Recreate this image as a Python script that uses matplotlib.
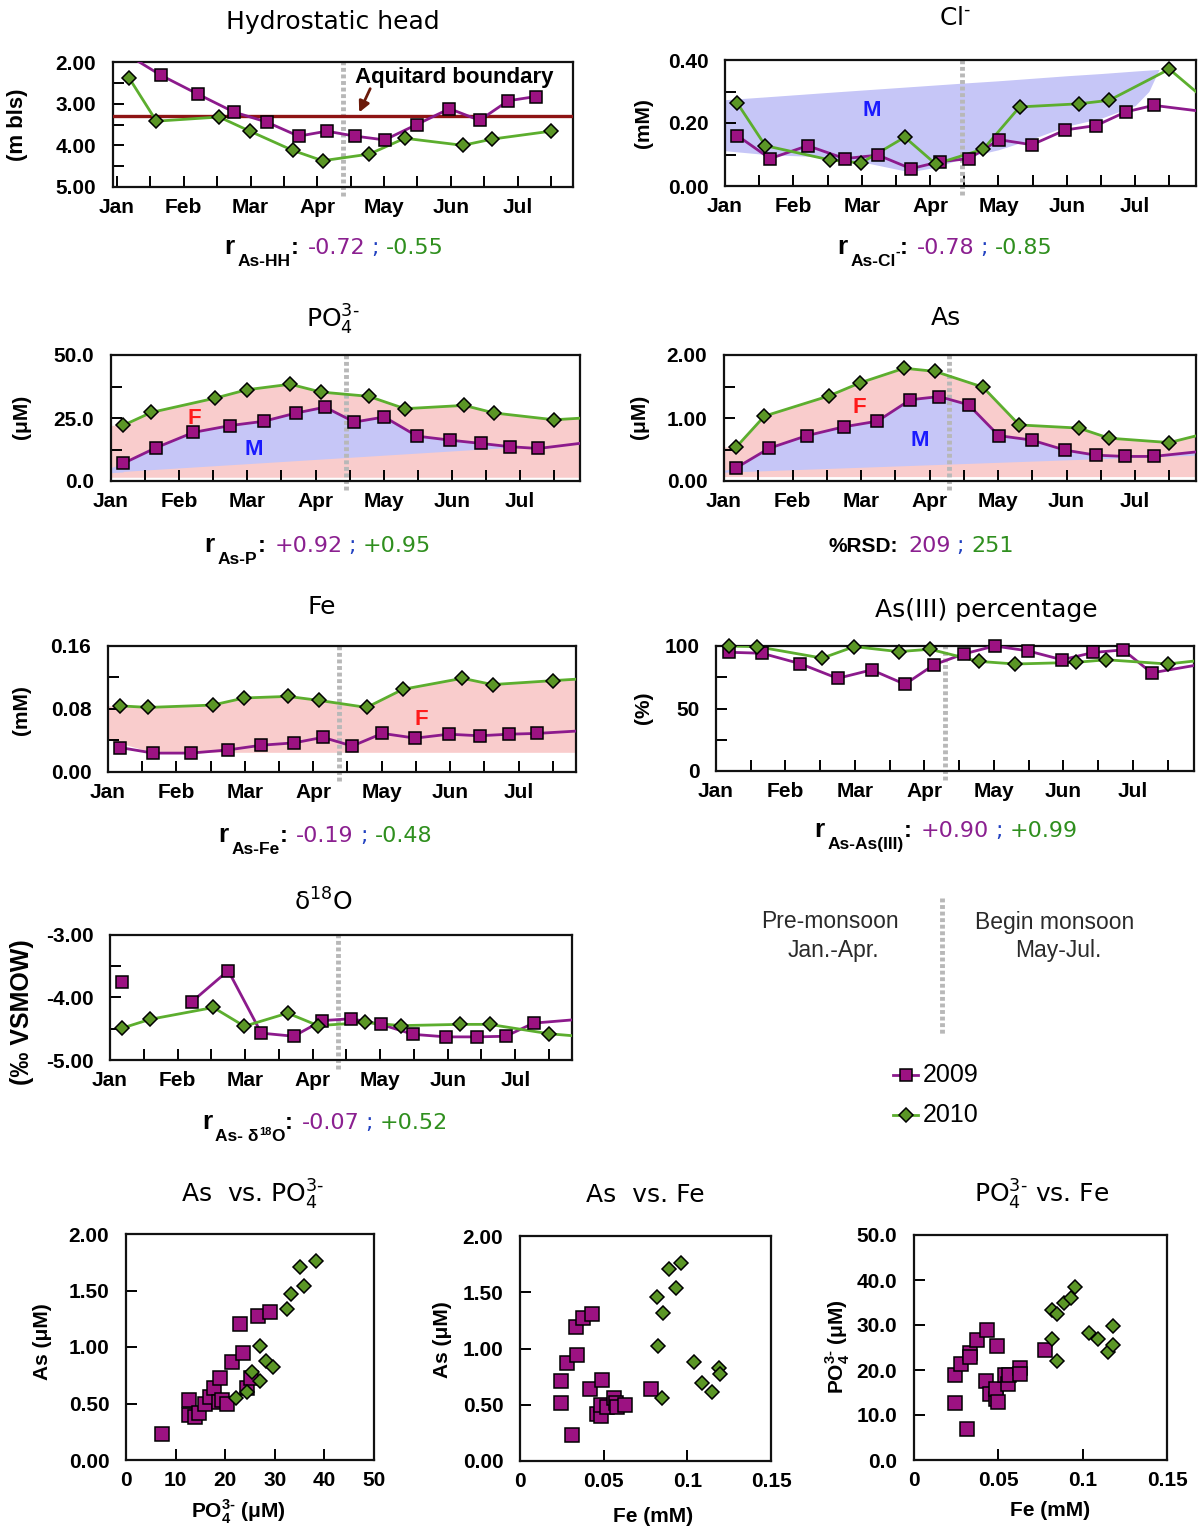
import numpy as np
import matplotlib
matplotlib.use("Agg")
import matplotlib.pyplot as plt
from matplotlib.lines import Line2D
from matplotlib.transforms import IdentityTransform

plt.rcParams['font.family'] = ['Liberation Sans', 'DejaVu Sans']
plt.rcParams['axes.unicode_minus'] = False
plt.rcParams['mathtext.fontset'] = 'custom'
plt.rcParams['mathtext.rm'] = 'DejaVu Sans'
plt.rcParams['mathtext.it'] = 'DejaVu Sans:italic'
plt.rcParams['mathtext.bf'] = 'Liberation Sans:bold'

# ------------------------------------------------------------------ data
MONTHS = ['Jan', 'Feb', 'Mar', 'Apr', 'May', 'Jun', 'Jul']

# sampling dates, in months after 1 January
dates_2009 = np.array([0.18, 0.66, 1.21, 1.75, 2.24, 2.72, 3.14, 3.57, 4.01,
                       4.49, 4.98, 5.43, 5.86, 6.27, 7.05])
dates_2010 = np.array([0.18, 0.59, 1.53, 1.99, 2.63, 3.08, 3.78, 4.31, 5.18,
                       5.62, 6.50, 7.05])

head_2009 = [1.85, 2.32, 2.77, 3.20, 3.44, 3.78, 3.66, 3.78, 3.87, 3.50, 3.12,
             3.40, 2.93, 2.83, np.nan]
head_2010 = [2.38, 3.42, 3.32, 3.66, 4.12, 4.37, 4.21, 3.83, 4.00, 3.85, 3.66,
             np.nan]
aquitard_depth = 3.29

cl_2009 = [0.160, 0.087, 0.128, 0.087, 0.098, 0.055, 0.077, 0.087, 0.147,
           0.131, 0.178, 0.192, 0.235, 0.256, 0.235]
cl_2010 = [0.263, 0.128, 0.083, 0.073, 0.155, 0.070, 0.117, 0.251, 0.261,
           0.272, 0.371, 0.270]

po4_2009 = [7.0, 13.2, 19.3, 22.0, 23.7, 27.0, 29.3, 23.4, 25.4, 17.8, 16.2,
            14.9, 13.6, 12.9, 15.5]
po4_2010 = [22.1, 27.2, 32.9, 36.2, 38.4, 35.3, 33.6, 28.7, 30.0, 27.0, 24.3,
            25.2]

as_2009 = [0.21, 0.52, 0.72, 0.86, 0.95, 1.29, 1.34, 1.21, 0.72, 0.65, 0.49,
           0.41, 0.39, 0.39, 0.48]
as_2010 = [0.54, 1.03, 1.35, 1.56, 1.79, 1.74, 1.49, 0.89, 0.84, 0.68, 0.61,
           0.76]

fe_2009 = [0.031, 0.024, 0.024, 0.028, 0.034, 0.037, 0.044, 0.033, 0.049,
           0.043, 0.048, 0.046, 0.048, 0.049, 0.053]
fe_2010 = [0.084, 0.082, 0.085, 0.094, 0.096, 0.091, 0.082, 0.105, 0.119,
           0.111, 0.116, 0.119]

as3_2009 = [95.0, 94.2, 85.9, 74.1, 80.9, 69.4, 85.1, 93.7, 100.0, 96.1, 89.0,
            94.8, 96.9, 78.5, 86.0]
as3_2010 = [100.0, 99.5, 90.3, 99.5, 95.5, 97.4, 87.7, 85.6, 86.9, 89.0, 85.6,
            89.0]

d18o_2009 = [-3.76, np.nan, -4.07, -3.57, -4.57, -4.62, -4.37, -4.34, -4.43,
             -4.59, -4.63, -4.63, -4.62, -4.41, -4.34]
d18o_2010 = [-4.49, -4.35, -4.16, -4.46, -4.25, -4.45, -4.40, -4.45, -4.43,
             -4.43, -4.58, -4.63]

# shaded source envelopes (M = mixing, F = Fe-reduction)
cl_band_x = [0.0, 0.6, 1.5, 2.1, 2.7, 3.1, 3.5, 4.0, 4.5, 5.0, 5.5, 6.0, 6.2, 6.35]
cl_band_lo = [0.112, 0.100, 0.092, 0.072, 0.045, 0.060, 0.090, 0.115, 0.150,
              0.190, 0.215, 0.255, 0.300, 0.370]
cl_band_hi = [0.274, 0.283, 0.297, 0.306, 0.315, 0.321, 0.327, 0.334, 0.342,
              0.350, 0.357, 0.365, 0.368, 0.370]
po4_base_x, po4_base_y = [0.0, 6.0], [3.3, 13.4]
po4_floor = 1.5
as_base_x, as_base_y = [0.0, 5.5], [0.14, 0.355]
as_floor = 0.07
fe_floor_x, fe_floor_y = [0.0, 0.65, 7.05], [0.041, 0.025, 0.025]

# cross plots
sc_po4_2009 = [7.2, 12.7, 12.8, 13.9, 14.7, 15.9, 17.0, 17.7, 19.0, 18.7, 19.3,
               20.3, 21.4, 22.9, 23.5, 24.3, 25.2, 26.7, 29.1]
sc_as_2009 = [0.23, 0.53, 0.40, 0.38, 0.42, 0.50, 0.56, 0.64, 0.73, 0.51, 0.53,
              0.50, 0.87, 1.20, 0.95, 0.64, 0.73, 1.27, 1.31]
sc_po4_2010 = [22.1, 24.3, 25.4, 27.1, 27.1, 28.3, 29.7, 32.5, 33.3, 35.1, 35.8, 38.4]
sc_as_2010 = [0.55, 0.60, 0.78, 1.01, 0.70, 0.88, 0.82, 1.34, 1.47, 1.71, 1.54, 1.76]

sc2_fe_2009 = [0.0244, 0.0248, 0.0278, 0.0332, 0.0338, 0.0378, 0.0433, 0.0421,
               0.0310, 0.0461, 0.0487, 0.0491, 0.0487, 0.0520, 0.0562, 0.0572,
               0.0580, 0.0630, 0.0785]
sc2_as_2009 = [0.52, 0.71, 0.87, 1.19, 0.94, 1.27, 1.31, 0.64, 0.23, 0.42, 0.40,
               0.72, 0.50, 0.48, 0.56, 0.52, 0.48, 0.50, 0.64]
sc2_fe_2010 = [0.0848, 0.0825, 0.0820, 0.0854, 0.0890, 0.0964, 0.0930, 0.1040,
               0.1090, 0.1150, 0.1190, 0.1196]
sc2_as_2010 = [0.56, 1.02, 1.46, 1.32, 1.71, 1.76, 1.54, 0.88, 0.69, 0.61, 0.83, 0.77]

sc3_fe_2009 = [0.0241, 0.0243, 0.0276, 0.0330, 0.0332, 0.0375, 0.0434, 0.0312,
               0.0424, 0.0452, 0.0484, 0.0487, 0.0497, 0.0490, 0.0539, 0.0558,
               0.0566, 0.0628, 0.0628, 0.0776]
sc3_po4_2009 = [12.6, 19.0, 21.4, 23.8, 22.9, 26.7, 29.0, 6.9, 17.5, 14.6, 13.6,
                15.8, 12.9, 25.3, 18.8, 16.9, 18.9, 20.4, 19.2, 24.4]
sc3_fe_2010 = [0.0819, 0.0819, 0.0845, 0.0845, 0.0888, 0.0933, 0.0957, 0.1036,
               0.1091, 0.1149, 0.1178, 0.1178]
sc3_po4_2010 = [27.0, 33.3, 32.4, 22.0, 35.0, 35.9, 38.5, 28.2, 27.0, 24.0, 29.7, 25.5]

# ------------------------------------------------------------------ style
W, H = 1199, 1529
P_LINE, P_FILL = '#8c1a8c', '#9c1282'
G_LINE, G_FILL = '#5cae2e', '#5b9626'
P_TXT, G_TXT, B_TXT = '#8b2090', '#2f8f1e', '#2040c0'
PINK, LAV = '#f9cccc', '#c6c6f7'
VLINE = '#b8b8b8'
PO4_SUP = 'PO$_4^{3‐}$'          # subscript 4, superscript "3-" (hyphen)
PO4_SUP_B = r'PO$_\mathbf{4}^\mathbf{3‐}$'

fig = plt.figure(figsize=(W / 100, H / 100), dpi=100)
fig.patch.set_facecolor('white')
PIX = IdentityTransform()


def axes_px(l, t, r, b):
    return fig.add_axes([l / W, 1 - b / H, (r - l) / W, (b - t) / H])


def series(ax, x, y, marker, ms, fc, lc):
    x = np.asarray(x, float)
    y = np.asarray(y, float)
    ax.plot(x, y, '-', color=lc, lw=2.0, zorder=3)
    x0, x1 = ax.get_xlim()
    lo, hi = sorted(ax.get_ylim())
    m = (x >= x0) & (x <= x1) & (y >= lo - 1e-9) & (y <= hi + 1e-9)
    ax.plot(x[m], y[m], ls='none', marker=marker, ms=ms, mfc=fc, mec='black',
            mew=1.1, zorder=4, clip_on=False)


def both_years(ax, y09, y10):
    series(ax, dates_2009, y09, 's', 8.0, P_FILL, P_LINE)
    series(ax, dates_2010, y10, 'D', 7.4, G_FILL, G_LINE)


def frame(ax):
    for s in ax.spines.values():
        s.set_linewidth(1.6)
        s.set_color('#111111')


def time_axes(box, xlim, ylim, yticks, ylabels, yminor, vline):
    ax = axes_px(*box)
    ax.set_xlim(*xlim)
    ax.set_ylim(*ylim)
    ax.set_xticks(np.arange(7))
    ax.set_xticklabels(MONTHS, fontsize=15, fontweight='bold')
    ax.set_xticks(np.arange(0.5, 7, 1.0), minor=True)
    ax.set_yticks(yticks)
    ax.set_yticklabels(ylabels, fontsize=15, fontweight='bold')
    ax.set_yticks(yminor, minor=True)
    ax.tick_params(which='both', direction='in', length=8, width=1.4,
                   top=False, right=False)
    ax.tick_params(axis='x', pad=8)
    ax.tick_params(axis='y', pad=12)
    frame(ax)
    ax.plot([vline, vline], [-0.07, 1.0], transform=ax.get_xaxis_transform(),
            color=VLINE, lw=3.5, ls=(0, (0.8, 0.55)), dash_capstyle='butt',
            clip_on=False, zorder=2.5)
    return ax


def rich(cx, cy, pieces):
    """Centre a row of differently styled text pieces.

    cy is the baseline in image pixels (from the top); each piece carries a
    downward shift in pixels and a gap after it."""
    rend = fig.canvas.get_renderer()
    arts = []
    for s, kw, dy, gap in pieces:
        t = fig.text(0, 0, s, transform=PIX, ha='left', va='baseline', **kw)
        w = t.get_window_extent(rend).width
        arts.append((t, dy, w, gap))
    total = sum(w + g for _, _, w, g in arts)
    x = cx - total / 2
    for t, dy, w, gap in arts:
        t.set_position((x, H - cy - dy))
        x += w + gap


def title(cx, cy, s, size=18):
    fig.text(cx, H - cy, s, transform=PIX, ha='center', va='center',
             fontsize=size, family='DejaVu Sans')


def ylab(cx, cy, s, size=15):
    fig.text(cx, H - cy, s, transform=PIX, ha='center', va='center',
             rotation=90, fontsize=size, fontweight='bold')


def corr_pieces(sub, v1, v2, sub_extra=None):
    p = [('r', dict(fontsize=19, fontweight='bold'), 0, 3),
         (sub, dict(fontsize=12.5, fontweight='bold'), 12, 0)]
    if sub_extra:
        p += sub_extra
    p += [(':', dict(fontsize=17, fontweight='bold'), 0, 9),
          (v1, dict(fontsize=16, color=P_TXT, family='DejaVu Sans'), 0, 6),
          (';', dict(fontsize=16, color=B_TXT, family='DejaVu Sans'), 0, 7),
          (v2, dict(fontsize=16, color=G_TXT, family='DejaVu Sans'), 0, 0)]
    return p


def band_label(ax, x, y, s, c):
    ax.text(x, y, s, color=c, fontsize=16, fontweight='bold', ha='center',
            va='center', zorder=5)


# ---------------------------------------------------------- hydrostatic head
ax = time_axes((113, 62, 573, 187), (-0.06, 6.83), (5.0, 2.0),
               [2, 3, 4, 5], ['2.00', '3.00', '4.00', '5.00'], [2.5, 3.5, 4.5], 3.39)
ax.axhline(aquitard_depth, color='#8e1414', lw=2.4, zorder=2.8)
both_years(ax, head_2009, head_2010)
ax.text(3.56, 2.36, 'Aquitard boundary', fontsize=16, fontweight='bold',
        ha='left', va='center', zorder=6)
ax.annotate('', xy=(3.61, 3.27), xytext=(3.81, 2.58),
            arrowprops=dict(arrowstyle='-|>', color='#6b1a0a', lw=2,
                            mutation_scale=16), zorder=6)
title(333, 22, 'Hydrostatic head')
ylab(18, 125, '(m bls)', 16)
rich(334, 254, corr_pieces('As-HH', '-0.72', '-0.55'))

# ---------------------------------------------------------- chloride
ax = time_axes((725, 60, 1196, 186), (0.01, 6.89), (0.0, 0.40),
               [0, 0.2, 0.4], ['0.00', '0.20', '0.40'], [0.1, 0.3], 3.47)
ax.fill_between(cl_band_x, cl_band_lo, cl_band_hi, color=LAV, lw=0, zorder=1)
band_label(ax, 2.15, 0.24, 'M', '#1a1aff')
both_years(ax, cl_2009, cl_2010)
title(955, 18, 'Cl$^{‐}$')
ylab(643, 123, '(mM)')
rich(945, 254, corr_pieces('As-Cl', '-0.78', '-0.85',
                           [('-', dict(fontsize=10, fontweight='bold'), 2, 0)]))

# ---------------------------------------------------------- phosphate
ax = time_axes((111, 355, 580, 481), (0.01, 6.88), (0.0, 50.0),
               [0, 25, 50], ['0.0', '25.0', '50.0'], [12.5, 37.5], 3.44)
fx = np.concatenate([[0.0], dates_2010])
fy = np.concatenate([[po4_2010[0]], po4_2010])
ax.fill_between(fx, po4_floor, fy, color=PINK, lw=0, zorder=1)
slope = (po4_base_y[1] - po4_base_y[0]) / (po4_base_x[1] - po4_base_x[0])
base = po4_base_y[0] + slope * (dates_2009 - po4_base_x[0])
p9 = np.asarray(po4_2009, float)
ax.fill_between(dates_2009, base, p9, where=p9 >= base, interpolate=True,
                color=LAV, lw=0, zorder=1.2)
ax.fill_between([0.0, dates_2009[0]], [po4_base_y[0], base[0]],
                [po4_base_y[0] + 2.0, p9[0]], color=LAV, lw=0, zorder=1.2)
band_label(ax, 1.22, 24.7, 'F', '#ff1a1a')
band_label(ax, 2.1, 12.5, 'M', '#1a1aff')
both_years(ax, po4_2009, po4_2010)
title(333, 320, PO4_SUP)
ylab(22, 417, '(μM)')
rich(318, 552, corr_pieces('As-P', '+0.92', '+0.95'))

# ---------------------------------------------------------- arsenic
ax = time_axes((724, 355, 1196, 481), (0.01, 6.89), (0.0, 2.0),
               [0, 1, 2], ['0.00', '1.00', '2.00'], [0.5, 1.5], 3.28)
fy = np.concatenate([[as_2010[0]], as_2010])
ax.fill_between(fx, as_floor, fy, color=PINK, lw=0, zorder=1)
slope = (as_base_y[1] - as_base_y[0]) / (as_base_x[1] - as_base_x[0])
base = as_base_y[0] + slope * (dates_2009 - as_base_x[0])
a9 = np.asarray(as_2009, float)
ax.fill_between(dates_2009, base, a9, where=a9 >= base, interpolate=True,
                color=LAV, lw=0, zorder=1.2)
ax.fill_between([0.0, dates_2009[0]], [as_base_y[0], base[0]],
                [as_base_y[0] + 0.03, a9[0]], color=LAV, lw=0, zorder=1.2)
band_label(ax, 1.97, 1.16, 'F', '#ff1a1a')
band_label(ax, 2.86, 0.65, 'M', '#1a1aff')
both_years(ax, as_2009, as_2010)
title(946, 318, 'As')
ylab(640, 417, '(μM)')
rich(921, 552, [('%RSD:', dict(fontsize=15, fontweight='bold'), 0, 10),
                ('209', dict(fontsize=16, color=P_TXT, family='DejaVu Sans'), 0, 6),
                (';', dict(fontsize=16, color=B_TXT, family='DejaVu Sans'), 0, 7),
                ('251', dict(fontsize=16, color=G_TXT, family='DejaVu Sans'), 0, 0)])

# ---------------------------------------------------------- iron
ax = time_axes((108, 646, 576, 772), (0.03, 6.84), (0.0, 0.16),
               [0, 0.08, 0.16], ['0.00', '0.08', '0.16'], [0.04, 0.12], 3.38)
fy = np.concatenate([[fe_2010[0]], fe_2010])
ax.fill_between(fx, np.interp(fx, fe_floor_x, fe_floor_y), fy, color=PINK,
                lw=0, zorder=1)
band_label(ax, 4.58, 0.067, 'F', '#ff1a1a')
both_years(ax, fe_2009, fe_2010)
title(322, 607, 'Fe')
ylab(22, 710, '(mM)')
rich(325, 842, corr_pieces('As-Fe', '-0.19', '-0.48'))

# ---------------------------------------------------------- As(III) fraction
ax = time_axes((716, 646, 1194, 771), (0.0, 6.88), (0.0, 100.0),
               [0, 50, 100], ['0', '50', '100'], [25, 75], 3.30)
both_years(ax, as3_2009, as3_2010)
title(986, 610, 'As(III) percentage')
ylab(644, 708, '(%)')
rich(946, 837, corr_pieces('As-As(III)', '+0.90', '+0.99'))

# ---------------------------------------------------------- oxygen isotopes
ax = time_axes((110, 935, 572, 1060), (0.03, 6.84), (-5.0, -3.0),
               [-5, -4, -3], ['-5.00', '-4.00', '-3.00'], [-4.5, -3.5], 3.37)
both_years(ax, d18o_2009, d18o_2010)
title(323, 902, 'δ$^{18}$O')
ylab(22, 1012, '(‰ VSMOW)', 18)
rich(325, 1129, corr_pieces('As- δ', '-0.07', '+0.52',
                            [('18', dict(fontsize=8, fontweight='bold'), 6, 0),
                             ('O', dict(fontsize=12.5, fontweight='bold'), 12, 0)]))

# ---------------------------------------------------------- season note + legend
fig.add_artist(Line2D([942, 942], [H - 898, H - 1035], transform=PIX, color=VLINE,
                      lw=3.5, ls=(0, (0.8, 0.55)), dash_capstyle='butt'))
for cx, l1, l2 in [(830, 'Pre-monsoon', 'Jan.-Apr.'),
                   (1055, 'Begin monsoon', 'May-Jul.')]:
    fig.text(cx, H - 922, l1, transform=PIX, ha='center', va='center',
             fontsize=16.5, color='#2a2a2a')
    fig.text(cx + 3, H - 950, l2, transform=PIX, ha='center', va='center',
             fontsize=16.5, color='#2a2a2a')

for yy, mk, ms, fc, lc, lab in [(1075, 's', 8.0, P_FILL, P_LINE, '2009'),
                                (1115, 'D', 7.4, G_FILL, G_LINE, '2010')]:
    fig.add_artist(Line2D([893, 918], [H - yy, H - yy], transform=PIX,
                          color=lc, lw=2.0))
    fig.add_artist(Line2D([905.5], [H - yy], transform=PIX, marker=mk, ms=ms,
                          mfc=fc, mec='black', mew=1.1, ls='none'))
    fig.text(923, H - yy, lab, transform=PIX, ha='left', va='center', fontsize=18)


# ---------------------------------------------------------- cross plots
def scatter_axes(box, xlim, ylim, xt, xtl, yt, ytl):
    ax = axes_px(*box)
    ax.set_xlim(*xlim)
    ax.set_ylim(*ylim)
    ax.set_xticks(xt)
    ax.set_xticklabels(xtl, fontsize=15, fontweight='bold')
    ax.set_yticks(yt)
    ax.set_yticklabels(ytl, fontsize=15, fontweight='bold')
    ax.tick_params(which='both', direction='in', length=8, width=1.4,
                   top=False, right=False)
    ax.tick_params(axis='x', pad=8)
    ax.tick_params(axis='y', pad=12)
    frame(ax)
    return ax


def cross(ax, x9, y9, x10, y10):
    ax.plot(x9, y9, ls='none', marker='s', ms=9.5, mfc=P_FILL, mec='black',
            mew=1.1, zorder=3)
    ax.plot(x10, y10, ls='none', marker='D', ms=7.5, mfc=G_FILL, mec='black',
            mew=1.1, zorder=3)


ax = scatter_axes((126, 1234, 374, 1460), (0, 50), (0, 2.0),
                  [0, 10, 20, 30, 40, 50], ['0', '10', '20', '30', '40', '50'],
                  [0, 0.5, 1, 1.5, 2], ['0.00', '0.50', '1.00', '1.50', '2.00'])
cross(ax, sc_po4_2009, sc_as_2009, sc_po4_2010, sc_as_2010)
title(253, 1195, 'As  vs. ' + PO4_SUP)
ylab(43, 1342, 'As (μM)')
fig.text(238, H - 1512, PO4_SUP_B + ' (μM)', transform=PIX,
         ha='center', va='center', fontsize=15, fontweight='bold')

ax = scatter_axes((520, 1236, 771, 1461), (0, 0.15), (0, 2.0),
                  [0, 0.05, 0.1, 0.15], ['0', '0.05', '0.1', '0.15'],
                  [0, 0.5, 1, 1.5, 2], ['0.00', '0.50', '1.00', '1.50', '2.00'])
cross(ax, sc2_fe_2009, sc2_as_2009, sc2_fe_2010, sc2_as_2010)
title(645, 1195, 'As  vs. Fe')
ylab(443, 1340, 'As (μM)')
fig.text(653, H - 1516, 'Fe (mM)', transform=PIX, ha='center', va='center',
         fontsize=15, fontweight='bold')

ax = scatter_axes((914, 1235, 1167, 1460), (0, 0.15), (0, 50),
                  [0, 0.05, 0.1, 0.15], ['0', '0.05', '0.1', '0.15'],
                  [0, 10, 20, 30, 40, 50],
                  ['0.0', '10.0', '20.0', '30.0', '40.0', '50.0'])
cross(ax, sc3_fe_2009, sc3_po4_2009, sc3_fe_2010, sc3_po4_2010)
title(1042, 1195, PO4_SUP + ' vs. Fe')
ylab(838, 1347, PO4_SUP_B + ' (μM)')
fig.text(1050, H - 1510, 'Fe (mM)', transform=PIX, ha='center', va='center',
         fontsize=15, fontweight='bold')

fig.savefig('out.png', dpi=100, facecolor='white')
